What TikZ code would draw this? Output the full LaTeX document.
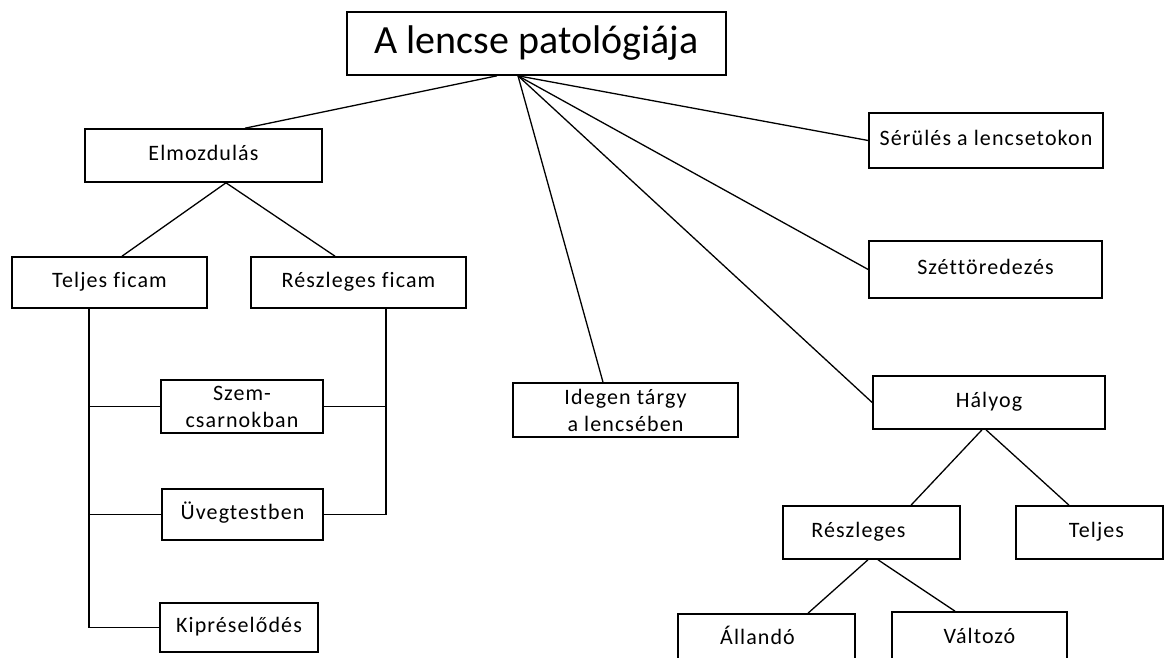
\documentclass[tikz,border=0pt]{standalone}
\usepackage{fontspec}
\setmainfont{Carlito}[LetterSpace=5,Ligatures=NoCommon]
\newfontfamily\titlefont{Carlito}
\begin{document}
\begin{tikzpicture}[x=1pt,y=-1pt,
  box/.style={draw=black, line width=1.6pt, fill=white, inner sep=0pt, align=center,
    font=\fontsize{22}{27}\selectfont},
  one/.style={text height=15pt, text depth=5pt},
  conn/.style={draw=black, line width=1.3pt}]
\useasboundingbox (0,0) rectangle (1173,658);
\clip (0,0) rectangle (1173,658);
% nodes
\node[box, minimum width=379pt, minimum height=63pt, font=\titlefont\fontsize{40}{48}\selectfont] (top) at (536.5,43.5) {A lencse patológiája};
\node[box, one, minimum width=237pt, minimum height=53pt] (elm) at (203.5,155.5) {Elmozdulás};
\node[box, one, minimum width=195pt, minimum height=51pt] (tf) at (109.5,282.5) {Teljes ficam};
\node[box, one, minimum width=215pt, minimum height=51pt] (rf) at (358.5,282.5) {Részleges ficam};
\node[box, minimum width=162pt, minimum height=53pt] (szem) at (242,406.5) {Szem-\\ csarnokban};
\node[box, one, minimum width=161pt, minimum height=51pt] (uveg) at (242.5,514.5) {Üvegtestben};
\node[box, one, minimum width=158pt, minimum height=49pt] (kip) at (239,627.5) {Kipréselődés};
\node[box, minimum width=225pt, minimum height=54pt] (ide) at (625.5,410) {Idegen tárgy\\ a lencsében};
\node[box, one, minimum width=234pt, minimum height=55pt] (ser) at (986,140.5) {Sérülés a lencsetokon};
\node[box, one, minimum width=233pt, minimum height=57pt] (szet) at (985.5,269.5) {Széttöredezés};
\node[box, one, minimum width=232pt, minimum height=53pt] (hal) at (989,402.5) {Hályog};
\node[box, one, minimum width=177pt, minimum height=53pt] (resz) at (871.5,532.5) {\hspace*{-26pt}Részleges};
\node[box, one, minimum width=147pt, minimum height=53pt] (tel) at (1089.5,532.5) {\hspace*{14pt}Teljes};
\node[box, one, minimum width=177pt, minimum height=50pt] (all) at (766.5,639) {\hspace*{-18pt}Állandó};
\node[box, one, minimum width=175pt, minimum height=52pt] (val) at (979.5,638) {Változó};
% helper coordinates
\coordinate (tfb) at ([xshift=-20.5pt]tf.south);
\coordinate (rfb) at ([xshift=27.5pt]rf.south);
% connectors
\draw[conn] ([xshift=-39.5pt]top.south) -- ([xshift=41.5pt]elm.north);
\draw[conn] ([xshift=-18.5pt]top.south) -- (ser.west);
\draw[conn] ([xshift=-18.5pt]top.south) -- (szet.west);
\draw[conn] ([xshift=-18.5pt]top.south) -- (hal.west);
\draw[conn] ([xshift=-18.5pt]top.south) -- ([xshift=-22.5pt]ide.north);
\draw[conn] ([xshift=22.5pt]elm.south) -- ([xshift=12.5pt]tf.north);
\draw[conn] ([xshift=22.5pt]elm.south) -- ([xshift=-23.5pt]rf.north);
\draw[conn] (tfb) |- (kip.west);
\draw[conn] (szem.west) -- (szem.west -| tfb);
\draw[conn] (uveg.west) -- (uveg.west -| tfb);
\draw[conn] (rfb) |- (uveg.east);
\draw[conn] (szem.east) -- (szem.east -| rfb);
\draw[conn] ([xshift=-7pt]hal.south) -- ([xshift=39.5pt]resz.north);
\draw[conn] ([xshift=-3pt]hal.south) -- ([xshift=-20.5pt]tel.north);
\draw[conn] ([xshift=-3.5pt]resz.south) -- ([xshift=41.5pt]all.north);
\draw[conn] ([xshift=6.5pt]resz.south) -- ([xshift=-24.5pt]val.north);
\end{tikzpicture}
\end{document}
